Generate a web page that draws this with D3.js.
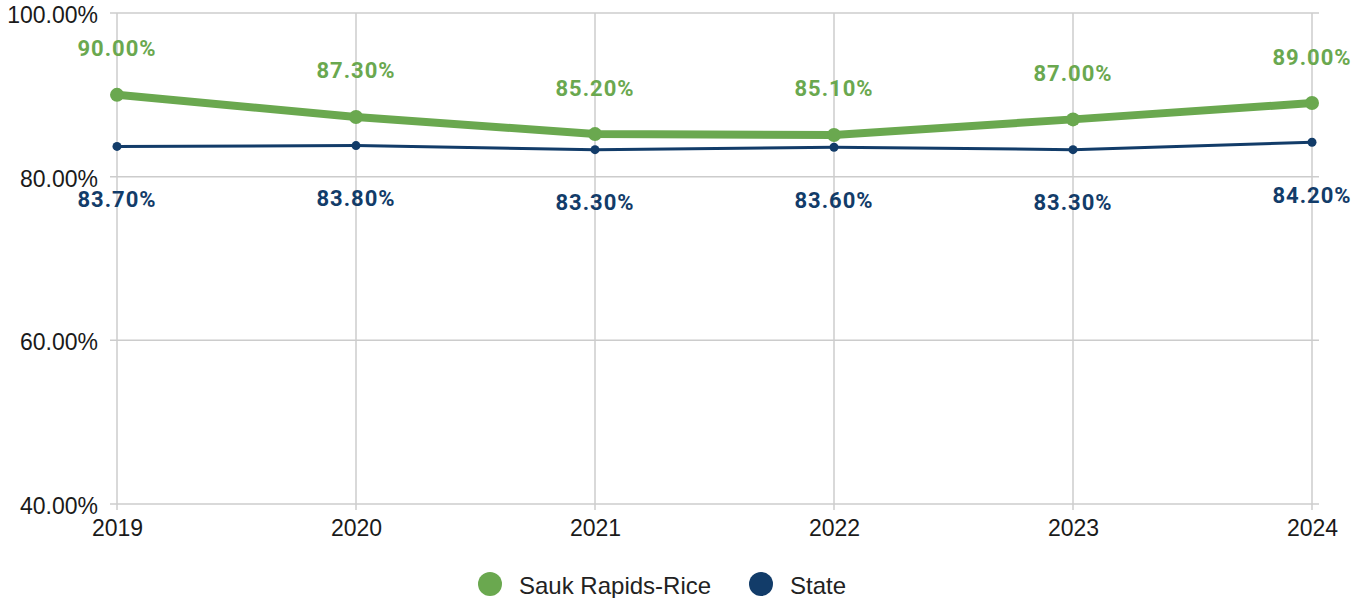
<meta charset="utf-8">
<head>
  <title>Sauk Rapids-Rice vs State</title>
  <script src="https://cdn.jsdelivr.net/npm/d3@7"></script>
</head>
<style>
  body { margin: 0; background: #fff; }
  .tick text { font-family: "Liberation Sans", Arial, sans-serif; font-size: 23px; fill: #1a1a1a; }
  .lbl { font-family: Roboto, "Liberation Sans", sans-serif; font-size: 22px; font-weight: bold; letter-spacing: 1px; }
  .leg { font-family: "Liberation Sans", Arial, sans-serif; font-size: 24px; fill: #222; }
</style>
<body>
<svg width="1352" height="598"></svg>
<script>
var years = ["2019", "2020", "2021", "2022", "2023", "2024"];
var district = [90.0, 87.3, 85.2, 85.1, 87.0, 89.0];
var state = [83.7, 83.8, 83.3, 83.6, 83.3, 84.2];
var yTicks = [40, 60, 80, 100];

var green = "#6aa84f", navy = "#123c69";

var svg = d3.select("svg");

var x = d3.scalePoint().domain(years).range([117, 1312]);
var y = d3.scaleLinear().domain([40, 100]).range([504, 13]);

// grid lines
svg.append("g")
  .selectAll("line.h")
  .data(yTicks)
  .enter().append("line")
  .attr("x1", 110).attr("x2", 1319)
  .attr("y1", d => y(d)).attr("y2", d => y(d))
  .attr("stroke", "#cccccc").attr("stroke-width", 1.5);

svg.append("g")
  .selectAll("line.v")
  .data(years)
  .enter().append("line")
  .attr("x1", d => x(d)).attr("x2", d => x(d))
  .attr("y1", 13).attr("y2", 510)
  .attr("stroke", "#cccccc").attr("stroke-width", 1.5);

// axes (text only)
var yAxis = svg.append("g")
  .attr("transform", "translate(110,2)")
  .call(d3.axisLeft(y).tickValues(yTicks).tickSize(0).tickPadding(12).tickFormat(d => d.toFixed(2) + "%"));
yAxis.select(".domain").remove();

var xAxis = svg.append("g")
  .attr("transform", "translate(0,510)")
  .call(d3.axisBottom(x).tickSize(0).tickPadding(10));
xAxis.select(".domain").remove();

var line = d3.line().x((d, i) => x(years[i])).y(d => y(d));

function series(vals, color, w, r, dy) {
  svg.append("path").datum(vals)
    .attr("d", line).attr("fill", "none")
    .attr("stroke", color).attr("stroke-width", w)
    .attr("stroke-linejoin", "round").attr("stroke-linecap", "round");
  svg.append("g").selectAll("circle").data(vals).enter().append("circle")
    .attr("cx", (d, i) => x(years[i])).attr("cy", d => y(d))
    .attr("r", r).attr("fill", color);
  svg.append("g").selectAll("text").data(vals).enter().append("text")
    .attr("class", "lbl")
    .attr("x", (d, i) => x(years[i]))
    .attr("y", d => y(d) + dy)
    .attr("text-anchor", "middle")
    .attr("dominant-baseline", "central")
    .attr("fill", color)
    .text(d => d.toFixed(2) + "%");
}

series(state, navy, 3, 4.5, 53);
series(district, green, 8, 7, -46);

// legend
var legend = [["Sauk Rapids-Rice", green, 490], ["State", navy, 761]];
var lg = svg.append("g").selectAll("g").data(legend).enter().append("g");
lg.append("circle").attr("cx", d => d[2]).attr("cy", 584).attr("r", 12).attr("fill", d => d[1]);
lg.append("text").attr("class", "leg").attr("x", d => d[2] + 29).attr("y", 585)
  .attr("dominant-baseline", "central").text(d => d[0]);
</script>
</body>
</html>
